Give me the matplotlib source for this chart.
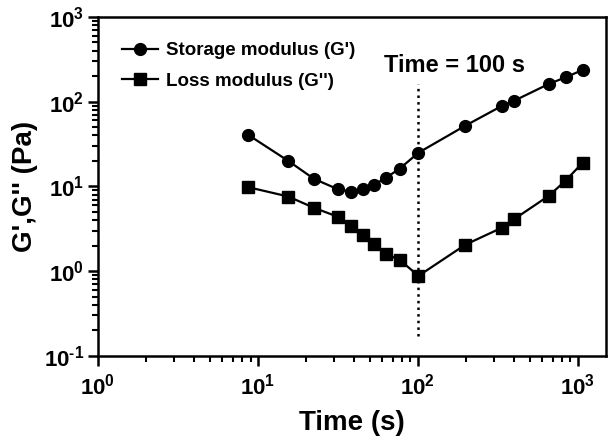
import matplotlib
matplotlib.use("Agg")
import matplotlib.pyplot as plt
import numpy as np
from matplotlib.ticker import LogLocator, NullFormatter, FuncFormatter

plt.rcParams['font.family'] = ['Liberation Sans', 'DejaVu Sans']
plt.rcParams['font.weight'] = 'bold'
plt.rcParams['mathtext.fontset'] = 'custom'
plt.rcParams['mathtext.rm'] = 'Liberation Sans:bold'
plt.rcParams['mathtext.bf'] = 'Liberation Sans:bold'
plt.rcParams['mathtext.default'] = 'rm'

storage_t = [8.7, 15.5, 22.4, 31.5, 38, 45.5, 53.5, 63, 77, 101, 198, 335, 398, 660, 840, 1075]
storage_g = [40.6, 20, 12.3, 9.3, 8.7, 9.3, 10.5, 12.6, 16.2, 25, 52, 89, 102, 162, 194, 237]
loss_t = [8.7, 15.5, 22.4, 31.5, 38, 45.5, 53.5, 63, 77, 101, 198, 335, 398, 660, 840, 1075]
loss_g = [9.8, 7.6, 5.6, 4.4, 3.4, 2.65, 2.1, 1.6, 1.36, 0.88, 2.05, 3.25, 4.08, 7.76, 11.7, 19.1]
vline_t = 100
vline_range = [0.17, 160]
labels = ["Storage modulus (G')", "Loss modulus (G'')"]
annotation = 'Time = 100 s'


def pow_label(v, pos):
    e = int(round(np.log10(v)))
    s = str(e).replace('-', '\u2010')
    return r'$10^{%s}$' % s


fig = plt.figure(figsize=(6.12, 4.46), dpi=100)
ax = fig.add_axes([0.160, 0.202, 0.830, 0.760])

ax.plot(storage_t, storage_g, '-o', color='black', lw=1.6, ms=8.5, label=labels[0])
ax.plot(loss_t, loss_g, '-s', color='black', lw=1.6, ms=8.5, label=labels[1])
ax.plot([vline_t, vline_t], vline_range, ':', color='black', lw=1.8)

ax.set_xscale('log')
ax.set_yscale('log')
ax.set_xlim(1, 1500)
ax.set_ylim(0.1, 1000)

ax.xaxis.set_major_locator(LogLocator(base=10, numticks=10))
ax.yaxis.set_major_locator(LogLocator(base=10, numticks=10))
ax.xaxis.set_major_formatter(FuncFormatter(pow_label))
ax.yaxis.set_major_formatter(FuncFormatter(pow_label))
ax.xaxis.set_minor_locator(LogLocator(base=10, subs=range(2, 10), numticks=20))
ax.yaxis.set_minor_locator(LogLocator(base=10, subs=range(2, 10), numticks=20))
ax.xaxis.set_minor_formatter(NullFormatter())
ax.yaxis.set_minor_formatter(NullFormatter())

for s in ax.spines.values():
    s.set_linewidth(1.8)
ax.tick_params(which='major', direction='out', length=7, width=1.8, labelsize=16, pad=3)
ax.tick_params(axis='x', which='major', pad=6)
ax.tick_params(which='minor', direction='out', length=4.5, width=1.5)
ax.tick_params(top=False, right=False)

ax.set_xlabel('Time (s)', fontsize=20, fontweight='bold', labelpad=7)
ax.set_ylabel("G',G'' (Pa)", fontsize=20, fontweight='bold', labelpad=4)

ax.text(169, 265, annotation, ha='center', va='center', fontsize=17, fontweight='bold')

leg = ax.legend(loc='upper left', frameon=False, fontsize=13.5, handlelength=1.9,
                bbox_to_anchor=(0.015, 0.975), labelspacing=0.7, handletextpad=0.45)

fig.savefig('out.png', dpi=100)
